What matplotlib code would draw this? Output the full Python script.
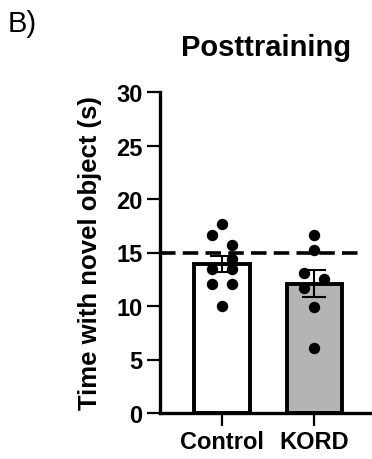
import matplotlib
matplotlib.use("Agg")
import matplotlib.pyplot as plt
import numpy as np

plt.rcParams['font.family'] = ['Liberation Sans', 'DejaVu Sans']

categories = ["Control", "KORD"]
means = [13.9, 12.1]
sems = [0.75, 1.3]
control_points = [17.7, 16.6, 15.7, 14.4, 13.5, 13.5, 12.1, 12.1, 10.0]
kord_points = [16.6, 15.2, 13.1, 12.5, 11.7, 9.9, 6.1]
chance_level = 15.0
yticks = [0, 5, 10, 15, 20, 25, 30]

# horizontal jitter (in bar-width units) for the scatter points
control_jitter = [0, -1, 1, 1, -1, 1, -1, 1, 0]
kord_jitter = [0, 0, -1, 1, -1, 0, 0]

W, H = 372, 460
fig = plt.figure(figsize=(W / 100, H / 100), dpi=100)
ax = fig.add_axes([160 / W, 46 / H, 212 / W, 321 / H])

x = np.arange(len(categories))
bar_colors = ["white", "#b4b4b4"]
ax.bar(x, means, width=0.6, color=bar_colors, edgecolor="black", linewidth=2.8, zorder=2)
ax.errorbar(x, means, yerr=sems, fmt="none", ecolor="black", elinewidth=1.5,
            capsize=8.4, capthick=1.5, zorder=3)
ax.axhline(chance_level, xmin=0, xmax=0.943, color="black", linewidth=2.6,
           dashes=(4.3, 2.0), zorder=4)

step = 0.108
for xi, pts, jit in [(0, control_points, control_jitter), (1, kord_points, kord_jitter)]:
    ax.plot([xi + j * step for j in jit], pts, "o", color="black", markersize=8.2,
            markeredgewidth=0, zorder=5)

ax.set_xlim(-0.665, 1.62)
ax.set_ylim(0, 30)
ax.set_yticks(yticks)
ax.set_xticks(x)
ax.set_xticklabels(categories, fontsize=17, fontweight="bold")
for lab in ax.get_yticklabels():
    lab.set_fontsize(17)
    lab.set_fontweight("bold")
ax.tick_params(axis="both", length=9.5, width=1.6, color="black", pad=3)
ax.set_ylabel("Time with novel object (s)", fontsize=18.5, fontweight="bold", labelpad=10)

for s in ["top", "right"]:
    ax.spines[s].set_visible(False)
for s in ["left", "bottom"]:
    ax.spines[s].set_linewidth(2.4)

ax.set_title("Posttraining", fontsize=21, fontweight="bold", pad=27)
fig.text(8 / W, 1 - 32 / H, "B)", fontsize=21, ha="left", va="baseline")

fig.savefig("out.png", dpi=100)
